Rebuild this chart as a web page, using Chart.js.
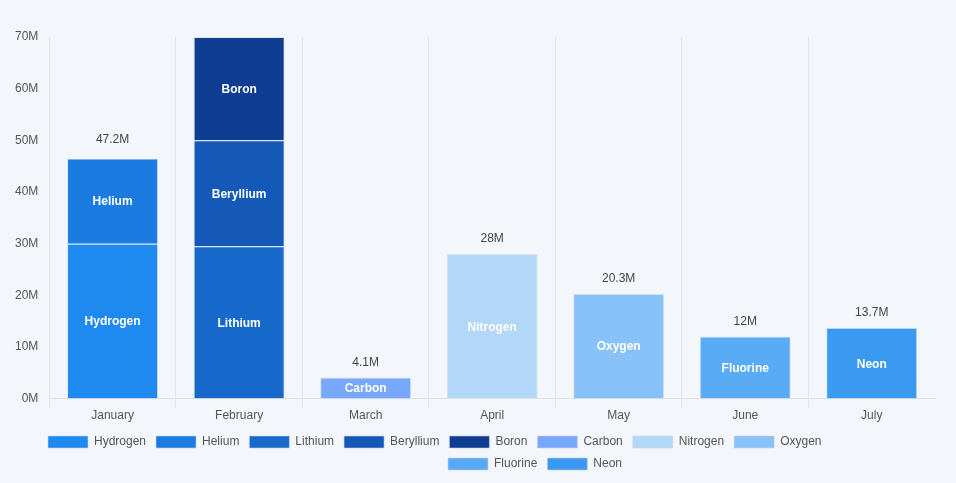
<!DOCTYPE html>
<html>
<head>
<meta charset="utf-8">
<script src="https://cdn.jsdelivr.net/npm/chart.js@4.4.0/dist/chart.umd.min.js"></script>
<style>
html,body{margin:0;padding:0;background:#f3f6fa;}
#wrap{width:956px;height:483px;}
</style>
</head>
<body>
<div id="wrap"><canvas id="c" width="956" height="483"></canvas></div>
<script>
const categories = ['January','February','March','April','May','June','July'];
const seriesNames = ['Hydrogen','Helium','Lithium','Beryllium','Boron','Carbon','Nitrogen','Oxygen','Fluorine','Neon'];
const seriesMonth = [0,0,1,1,1,2,3,4,5,6];
const seriesValues = [30.0,16.5,29.5,20.5,20.0,4.1,28.0,20.3,12.0,13.7];
const seriesColors = ['#1e8af0','#1b7be0','#176acc','#1458b8','#0e3d92','#78a8fe','#b2d7f8','#88c2f8','#5aabf5','#3a9af2'];
const totals = [47.2,null,4.1,28,20.3,12,13.7];
const yTicks = [0,10,20,30,40,50,60,70];

const FONT = "'Liberation Sans', Arial, Helvetica, sans-serif";

const datasets = seriesNames.map((name,i)=>{
  const data = categories.map((_,j)=> j===seriesMonth[i] ? seriesValues[i] : null);
  return {
    label: name,
    data: data,
    backgroundColor: seriesColors[i],
    borderColor: 'rgba(205,213,222,0.55)',
    borderWidth: 1,
    borderSkipped: 'bottom',
    stack: 's'
  };
});

const labelPlugin = {
  id: 'labels',
  afterDatasetsDraw(chart){
    const ctx = chart.ctx;
    const y = chart.scales.y;
    const x = chart.scales.x;
    ctx.save();
    ctx.textAlign = 'center';
    ctx.textBaseline = 'middle';
    chart.data.datasets.forEach((ds,i)=>{
      const meta = chart.getDatasetMeta(i);
      meta.data.forEach((bar,j)=>{
        if (ds.data[j]==null) return;
        const props = bar.getProps(['x','y','base'],true);
        const cy = (props.y + props.base)/2;
        ctx.font = "bold 12px " + FONT;
        ctx.fillStyle = '#ffffff';
        ctx.fillText(ds.label, props.x, cy + 1);
      });
    });
    ctx.font = "12px " + FONT;
    ctx.fillStyle = '#444444';
    totals.forEach((t,j)=>{
      if (t==null) return;
      const px = x.getPixelForValue(j);
      const py = y.getPixelForValue(t);
      ctx.fillText(t + 'M', px, py - 15);
    });
    ctx.restore();
  }
};

// legend row arrangement: 8 items on the first row, the rest on the second
const legendRowStarts = [48, 448];
const legendRowBreak = 8;
const legendRows = {
  id: 'legendRows',
  beforeDraw(chart){
    const lg = chart.legend;
    if (!lg || !lg.legendItems) return;
    const o = lg.options.labels;
    const fs = o.font.size;
    const pad = o.padding;
    const ctx = chart.ctx;
    ctx.save();
    ctx.font = fs + "px " + FONT;
    const w = lg.legendItems.map(it => o.boxWidth + fs/2 + ctx.measureText(it.text).width + pad);
    ctx.restore();
    let row1 = 0; for (let i=0;i<legendRowBreak;i++) row1 += w[i];
    const R = legendRowStarts[0] + row1 + 1;
    lg.right = R;
    const L = lg.left;
    lg.lineWidths = legendRowStarts.map(s => L + pad + R - 2*s);
  }
};

new Chart(document.getElementById('c'), {
  type: 'bar',
  data: { labels: categories, datasets: datasets },
  options: {
    responsive: false,
    animation: false,
    layout: { padding: { top: 37, left: 12, right: 21, bottom: 3 } },
    scales: {
      x: {
        stacked: true,
        grid: { display: true, drawTicks: true, tickLength: 10,
          color: c => (c.index === undefined ? 'rgba(0,0,0,0)' : '#e2e6ec') },
        border: { color: '#dde1e6' },
        ticks: { color: '#555555', font: { family: FONT, size: 12 }, padding: 0 }
      },
      y: {
        stacked: true,
        min: 0, max: 70,
        afterBuildTicks(axis){ axis.ticks = yTicks.map(v=>({value:v})); },
        grid: { display: false },
        border: { display: false },
        ticks: { color: '#555555', font: { family: FONT, size: 12 }, padding: 3,
          callback: v => v + 'M' }
      }
    },
    plugins: {
      legend: {
        position: 'bottom',
        title: { display: true, text: '', font: { size: 1, lineHeight: 1 }, padding: { top: 2, bottom: 0 } },
        labels: { color: '#555555', font: { family: FONT, size: 12 }, boxWidth: 40, boxHeight: 12, padding: 10 }
      },
      tooltip: { enabled: false }
    }
  },
  plugins: [labelPlugin, legendRows]
});
</script>
</body>
</html>
